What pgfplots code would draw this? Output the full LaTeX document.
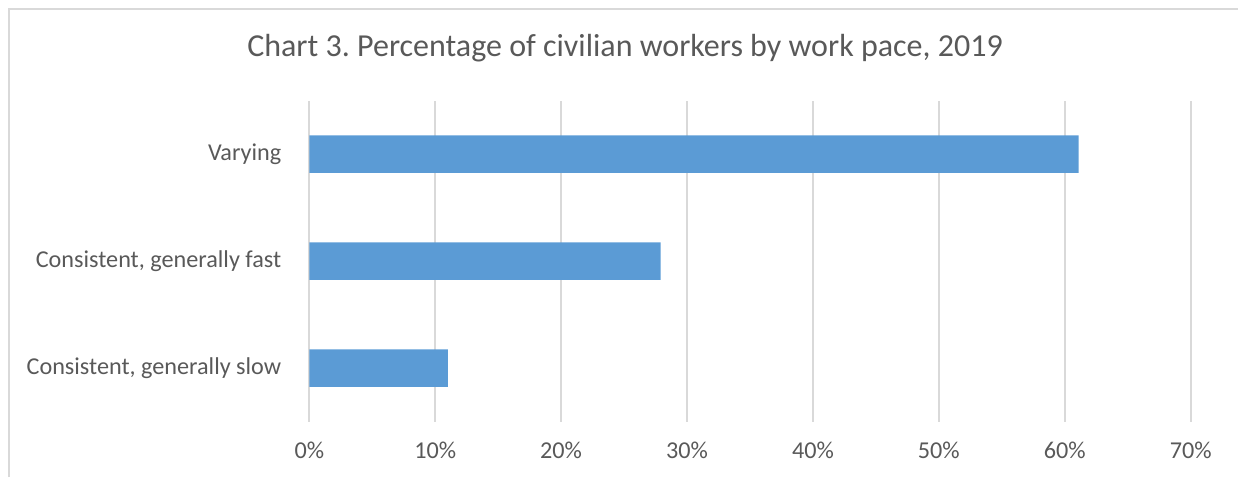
\documentclass[border=0pt]{standalone}
\usepackage{fontspec}
\setmainfont{Carlito}
\usepackage{pgfplots}
\pgfplotsset{compat=1.18}
\definecolor{barblue}{HTML}{5B9BD5}
\definecolor{txtgray}{HTML}{595959}
\definecolor{gridgray}{HTML}{D9D9D9}
\frenchspacing
\begin{document}
\begin{tikzpicture}[x=0.5pt,y=0.5pt]
  \path[use as bounding box] (0,0) rectangle (1238,-477);
  \draw[gridgray, line width=1pt] (8.5,-477) -- (8.5,-8.5) -- (1238,-8.5);
  \node[txtgray, font=\fontsize{16}{19}\selectfont] at (625,-48)
    {Chart 3. Percentage of civilian workers by work pace, 2019};
  \begin{axis}[
      at={(154.65pt,-210.85pt)}, anchor=south west,
      scale only axis,
      width=440.7pt, height=160.5pt,
      xbar,
      bar width=0.35,
      xmin=0, xmax=70,
      ymin=-0.5, ymax=2.5,
      xtick={0,10,...,70},
      ytick={0,1,2},
      yticklabels={{Consistent, generally slow}, {Consistent, generally fast}, Varying},
      xticklabel={\pgfmathprintnumber{\tick}\%},
      /pgf/number format/assume math mode=true,
      xmajorgrids,
      major grid style={gridgray, line width=0.9pt},
      axis line style={draw=none},
      major tick length=0pt,
      tick label style={txtgray, font=\fontsize{12.1}{14}\selectfont},
      xticklabel style={yshift=-6.5pt},
      yticklabel style={xshift=-10.5pt},
    ]
    \addplot[fill=barblue, draw=none] coordinates {(11.0,0) (27.9,1) (61.1,2)};
  \end{axis}
\end{tikzpicture}
\end{document}
